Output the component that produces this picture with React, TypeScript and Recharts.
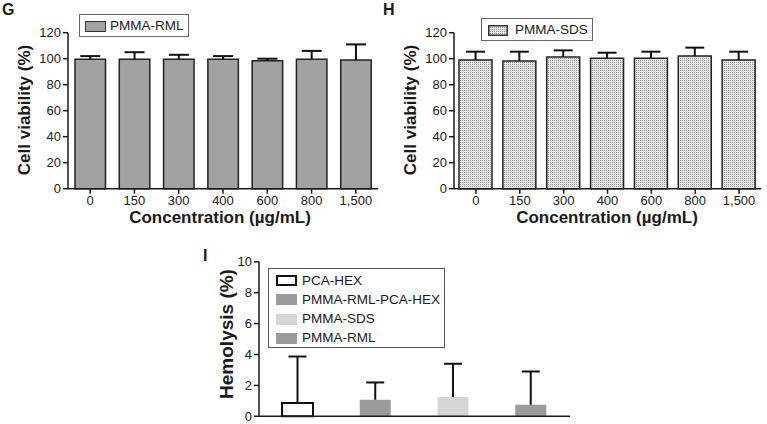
import React from "react";
import { BarChart, Bar, XAxis, YAxis, Cell } from "recharts";

const concentrations = ["0", "150", "300", "400", "600", "800", "1,500"];
const rmlViability = [99.5, 99.5, 99.5, 99.5, 98.5, 99.5, 99];
const rmlErrorTop = [102, 105, 103, 102, 100, 106, 111];
const sdsViability = [99, 98.2, 101.3, 100.3, 100.3, 102, 99];
const sdsErrorTop = [105.4, 105.4, 106.4, 104.6, 105.4, 108.5, 105.4];

const hemolysisGroups = ["PCA-HEX", "PMMA-RML-PCA-HEX", "PMMA-SDS", "PMMA-RML"];
const hemolysisValues = [0.86, 1.07, 1.25, 0.75];
const hemolysisErrorTop = [3.87, 2.19, 3.4, 2.9];
const hemolysisFill = ["#ffffff", "#9b9b9d", "#d5d5d5", "#9b9b9d"];
const hemolysisStroke = ["#111111", "none", "none", "none"];

const viabilityTicks = [0, 20, 40, 60, 80, 100, 120];
const hemolysisTicks = [0, 2, 4, 6, 8, 10];

const rmlData = concentrations.map((c, i) => ({
  c,
  v: rmlViability[i],
  e: rmlErrorTop[i] - rmlViability[i],
}));
const sdsData = concentrations.map((c, i) => ({
  c,
  v: sdsViability[i],
  e: sdsErrorTop[i] - sdsViability[i],
}));
const hemoData = hemolysisGroups.map((g, i) => ({
  g,
  v: hemolysisValues[i],
  e: hemolysisErrorTop[i] - hemolysisValues[i],
}));

const ink = "#1a1a1a";
const axisProps = { stroke: ink, strokeWidth: 1.5 };

// upper-only error bar, drawn as a stacked segment on top of the value bar
const errorCap = (capWidth: number) => (props: any) => {
  const { x, y, width, height } = props;
  const cx = x + width / 2;
  return (
    <g>
      <line x1={cx} x2={cx} y1={y + height} y2={y} stroke="#111" strokeWidth={2} />
      <line x1={cx - capWidth / 2} x2={cx + capWidth / 2} y1={y} y2={y} stroke="#111" strokeWidth={2} />
    </g>
  );
};

const abs = (left: number, top: number, extra: React.CSSProperties = {}): React.CSSProperties => ({
  position: "absolute",
  left,
  top,
  ...extra,
});

const PanelLetter = ({ text, left, top }: { text: string; left: number; top: number }) => (
  <div style={abs(left, top, { fontSize: 16, fontWeight: 700, lineHeight: "16px" })}>{text}</div>
);

const XTitle = ({ text, cx, top }: { text: string; cx: number; top: number }) => (
  <div
    style={abs(cx - 150, top, {
      width: 300,
      height: 20,
      lineHeight: "20px",
      textAlign: "center",
      fontSize: 17,
      fontWeight: 700,
      whiteSpace: "nowrap",
    })}
  >
    {text}
  </div>
);

const YTitle = ({ text, cx, cy, size = 17 }: { text: string; cx: number; cy: number; size?: number }) => (
  <div
    style={abs(cx - 100, cy - 10, {
      width: 200,
      height: 20,
      lineHeight: "20px",
      textAlign: "center",
      fontSize: size,
      fontWeight: 700,
      whiteSpace: "nowrap",
      transform: "rotate(-90deg)",
    })}
  >
    {text}
  </div>
);

const DotPattern = ({ id }: { id: string }) => (
  <pattern id={id} width="2" height="2" patternUnits="userSpaceOnUse">
    <rect width="2" height="2" fill="#e4e4e4" />
    <rect width="1" height="1" fill="#999" />
  </pattern>
);

export default function App() {
  return (
    <div
      style={{
        position: "absolute",
        left: 0,
        top: 0,
        width: 767,
        height: 424,
        background: "#fff",
        fontFamily: "'Liberation Sans', Arial, sans-serif",
        color: ink,
        overflow: "hidden",
      }}
    >
      {/* G */}
      <div style={abs(0, 0)}>
        <BarChart width={380} height={230} data={rmlData} margin={{ top: 32.7, right: 2, left: 18, bottom: 11.3 }}>
          <XAxis
            dataKey="c"
            height={30}
            interval={0}
            tickSize={5}
            axisLine={axisProps}
            tickLine={axisProps}
            tick={{ fontSize: 13, fill: ink }}
          />
          <YAxis
            width={50}
            domain={[0, 120]}
            ticks={viabilityTicks}
            interval={0}
            tickSize={5}
            tickMargin={2}
            axisLine={axisProps}
            tickLine={axisProps}
            tick={{ fontSize: 13, fill: ink }}
          />
          <Bar dataKey="v" stackId="a" barSize={30.5} fill="#a2a2a4" stroke="#222" strokeWidth={1.5} isAnimationActive={false} />
          <Bar dataKey="e" stackId="a" barSize={30.5} shape={errorCap(20)} isAnimationActive={false} />
        </BarChart>
      </div>

      {/* H */}
      <div style={abs(380, 0)}>
        <BarChart width={387} height={230} data={sdsData} margin={{ top: 32.7, right: 6, left: 24, bottom: 11.3 }}>
          <defs>
            <DotPattern id="sdsDots" />
          </defs>
          <XAxis
            dataKey="c"
            height={30}
            interval={0}
            tickSize={5}
            axisLine={axisProps}
            tickLine={axisProps}
            tick={{ fontSize: 13, fill: ink }}
          />
          <YAxis
            width={50}
            domain={[0, 120]}
            ticks={viabilityTicks}
            interval={0}
            tickSize={5}
            tickMargin={2}
            axisLine={axisProps}
            tickLine={axisProps}
            tick={{ fontSize: 13, fill: ink }}
          />
          <Bar dataKey="v" stackId="a" barSize={33} fill="url(#sdsDots)" stroke="#222" strokeWidth={1.5} isAnimationActive={false} />
          <Bar dataKey="e" stackId="a" barSize={33} shape={errorCap(19)} isAnimationActive={false} />
        </BarChart>
      </div>

      {/* I */}
      <div style={abs(200, 250)}>
        <BarChart width={380} height={174} data={hemoData} margin={{ top: 11.8, right: 10, left: 14, bottom: 2.7 }}>
          <XAxis dataKey="g" height={5} tickSize={5} tick={false} axisLine={axisProps} tickLine={axisProps} />
          <YAxis
            width={45}
            domain={[0, 10]}
            ticks={hemolysisTicks}
            interval={0}
            tickSize={5}
            tickMargin={2}
            axisLine={axisProps}
            tickLine={axisProps}
            tick={{ fontSize: 13, fill: ink }}
          />
          <Bar dataKey="v" stackId="a" barSize={31} isAnimationActive={false}>
            {hemoData.map((d, i) => (
              <Cell key={d.g} fill={hemolysisFill[i]} stroke={hemolysisStroke[i]} strokeWidth={2} />
            ))}
          </Bar>
          <Bar dataKey="e" stackId="a" barSize={31} shape={errorCap(18)} isAnimationActive={false} />
        </BarChart>
      </div>

      <PanelLetter text="G" left={2} top={2} />
      <PanelLetter text="H" left={383} top={2} />
      <PanelLetter text="I" left={203} top={248} />

      <YTitle text="Cell viability (%)" cx={25} cy={110} />
      <YTitle text="Cell viability (%)" cx={411} cy={110} />
      <YTitle text="Hemolysis (%)" cx={227} cy={334} size={19} />
      <XTitle text="Concentration (µg/mL)" cx={220} top={208} />
      <XTitle text="Concentration (µg/mL)" cx={607} top={208} />

      {/* legends */}
      <div style={abs(79, 14, { width: 110, height: 23, boxSizing: "border-box", border: "1px solid #666", background: "#fff" })} />
      <div style={abs(85, 20.5, { width: 21, height: 11, boxSizing: "border-box", border: "1px solid #333", background: "#a2a2a4" })} />
      <div style={abs(110, 17, { fontSize: 13.5, lineHeight: "18px" })}>PMMA-RML</div>

      <div style={abs(481, 18, { width: 112, height: 23, boxSizing: "border-box", border: "1px solid #666", background: "#fff" })} />
      <svg style={abs(488, 25)} width={20} height={11}>
        <defs>
          <DotPattern id="sdsDotsLegend" />
        </defs>
        <rect x={0.75} y={0.75} width={18.5} height={9.5} fill="url(#sdsDotsLegend)" stroke="#333" strokeWidth={1.5} />
      </svg>
      <div style={abs(515, 21, { fontSize: 13.5, lineHeight: "18px" })}>PMMA-SDS</div>

      <div style={abs(268, 268, { width: 177, height: 80, boxSizing: "border-box", border: "1px solid #555", background: "#fff" })} />
      {hemolysisGroups.map((g, i) => {
        const cy = 280.7 + i * 19.2;
        return (
          <React.Fragment key={g}>
            <div
              style={abs(276, cy - 5.5, {
                width: 21,
                height: 11,
                boxSizing: "border-box",
                border: hemolysisStroke[i] === "none" ? "none" : `2px solid ${hemolysisStroke[i]}`,
                background: hemolysisFill[i],
              })}
            />
            <div style={abs(302, cy - 9, { fontSize: 13.5, lineHeight: "18px", whiteSpace: "nowrap" })}>{g}</div>
          </React.Fragment>
        );
      })}
    </div>
  );
}
